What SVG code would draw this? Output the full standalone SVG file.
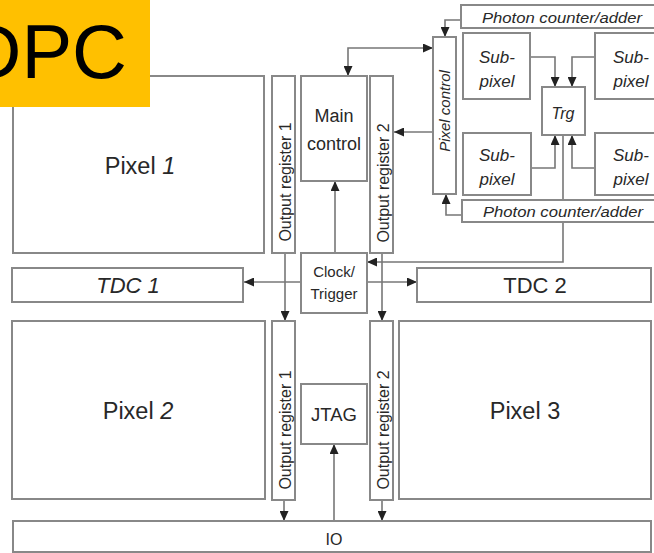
<svg xmlns="http://www.w3.org/2000/svg" width="654" height="553" viewBox="0 0 654 553">
<defs>
<marker id="ah" markerUnits="userSpaceOnUse" markerWidth="10" markerHeight="9" refX="10" refY="4.5" orient="auto-start-reverse">
<path d="M0,0 L10,4.5 L0,9 z" fill="#222"/>
</marker>
<style>
.box{fill:#fff;stroke:#888;stroke-width:2}
.t{font-family:"Liberation Sans",Arial,sans-serif;fill:#282828;text-anchor:middle}
.i{font-style:italic}
.c{fill:none;stroke:#777;stroke-width:1.6}
.a{marker-end:url(#ah)}
</style>
</defs>
<rect width="654" height="553" fill="#fff"/>
<g id="connectors">
<path class="c" d="M563,135 L563,262 L367,262" marker-end="url(#ah)"/>
<path class="c" d="M348,76 L348,48 L433,48" marker-start="url(#ah)" marker-end="url(#ah)"/>
<path class="c a" d="M433,132 L394,132"/>
<path class="c a" d="M335,253 L335,181"/>
<path class="c a" d="M461,20 L445,20 L445,37"/>
<path class="c a" d="M530,57 L555,57 L555,87"/>
<path class="c a" d="M595,57 L572,57 L572,87"/>
<path class="c a" d="M531,168 L555,168 L555,135"/>
<path class="c a" d="M595,168 L572,168 L572,135"/>
<path class="c a" d="M462,215 L446,215 L446,194"/>
<path class="c a" d="M301,282 L244,282"/>
<path class="c a" d="M367,282 L417,282"/>
<path class="c a" d="M285,253 L285,321"/>
<path class="c a" d="M382,253 L382,321"/>
<path class="c a" d="M284,500 L284,521"/>
<path class="c a" d="M382,500 L382,521"/>
<path class="c a" d="M334,521 L334,444"/>
</g>
<g id="pixel1"><rect class="box" x="13" y="76" width="251" height="177"/><text class="t" x="140" y="174" font-size="23.5">Pixel <tspan class="i">1</tspan></text></g>
<g id="outreg1a"><rect class="box" x="272" y="76" width="23" height="177"/><text class="t" font-size="16" transform="translate(291,182) rotate(-90)">Output register 1</text></g>
<g id="maincontrol"><rect class="box" x="301" y="76" width="66" height="105"/><text class="t" x="334" y="122" font-size="18">Main</text><text class="t" x="334" y="150" font-size="18">control</text></g>
<g id="outreg2a"><rect class="box" x="370" y="76" width="23" height="177"/><text class="t" font-size="16" transform="translate(389,183) rotate(-90)">Output register 2</text></g>
<g id="pixelcontrol"><rect class="box" x="433" y="37" width="23" height="157"/><text class="t i" font-size="15" transform="translate(450,111) rotate(-90)">Pixel control</text></g>
<g id="photon1"><rect class="box" x="461" y="5" width="200" height="23"/><text class="t i" x="562" y="23" font-size="15" textLength="160" lengthAdjust="spacingAndGlyphs">Photon counter/adder</text></g>
<g id="subpixel1"><rect class="box" x="463" y="33" width="67" height="66"/><text class="t i" x="497" y="63" font-size="17">Sub-</text><text class="t i" x="497" y="87" font-size="17">pixel</text></g>
<g id="subpixel2"><rect class="box" x="595" y="33" width="70" height="66"/><text class="t i" x="631" y="63" font-size="17">Sub-</text><text class="t i" x="631" y="87" font-size="17">pixel</text></g>
<g id="trg"><rect class="box" x="542" y="87" width="43" height="48"/><text class="t i" x="563" y="119" font-size="16">Trg</text></g>
<g id="subpixel3"><rect class="box" x="463" y="133" width="68" height="62"/><text class="t i" x="497" y="161" font-size="17">Sub-</text><text class="t i" x="497" y="185" font-size="17">pixel</text></g>
<g id="subpixel4"><rect class="box" x="595" y="133" width="70" height="62"/><text class="t i" x="631" y="161" font-size="17">Sub-</text><text class="t i" x="631" y="185" font-size="17">pixel</text></g>
<g id="photon2"><rect class="box" x="462" y="200" width="200" height="22"/><text class="t i" x="563" y="217" font-size="15" textLength="160" lengthAdjust="spacingAndGlyphs">Photon counter/adder</text></g>
<g id="clock"><rect class="box" x="301" y="253" width="66" height="60"/><text class="t" x="334" y="277" font-size="15">Clock/</text><text class="t" x="334" y="299" font-size="15">Trigger</text></g>
<g id="tdc1"><rect class="box" x="12" y="268" width="231" height="34"/><text class="t i" x="128" y="293" font-size="22">TDC 1</text></g>
<g id="tdc2"><rect class="box" x="417" y="268" width="234" height="34"/><text class="t" x="535" y="293" font-size="22">TDC 2</text></g>
<g id="pixel2"><rect class="box" x="12" y="321" width="253" height="178"/><text class="t" x="138" y="419" font-size="23.5">Pixel <tspan class="i">2</tspan></text></g>
<g id="outreg1b"><rect class="box" x="272" y="321" width="23" height="179"/><text class="t" font-size="16" transform="translate(291,430) rotate(-90)">Output register 1</text></g>
<g id="jtag"><rect class="box" x="301" y="384" width="66" height="60"/><text class="t" x="334" y="421" font-size="18.5">JTAG</text></g>
<g id="outreg2b"><rect class="box" x="370" y="321" width="23" height="179"/><text class="t" font-size="16" transform="translate(389,430) rotate(-90)">Output register 2</text></g>
<g id="pixel3"><rect class="box" x="399" y="321" width="252" height="178"/><text class="t" x="525" y="419" font-size="23.5">Pixel 3</text></g>
<g id="io"><rect class="box" x="13" y="521" width="638" height="31"/><text class="t" x="334" y="545" font-size="16">IO</text></g>
<g id="dpc"><rect x="0" y="0" width="150" height="107" fill="#FFC000"/><text x="127" y="78" font-size="76" fill="#000" text-anchor="end" font-family="Liberation Sans,Arial,sans-serif">DPC</text></g>
</svg>
